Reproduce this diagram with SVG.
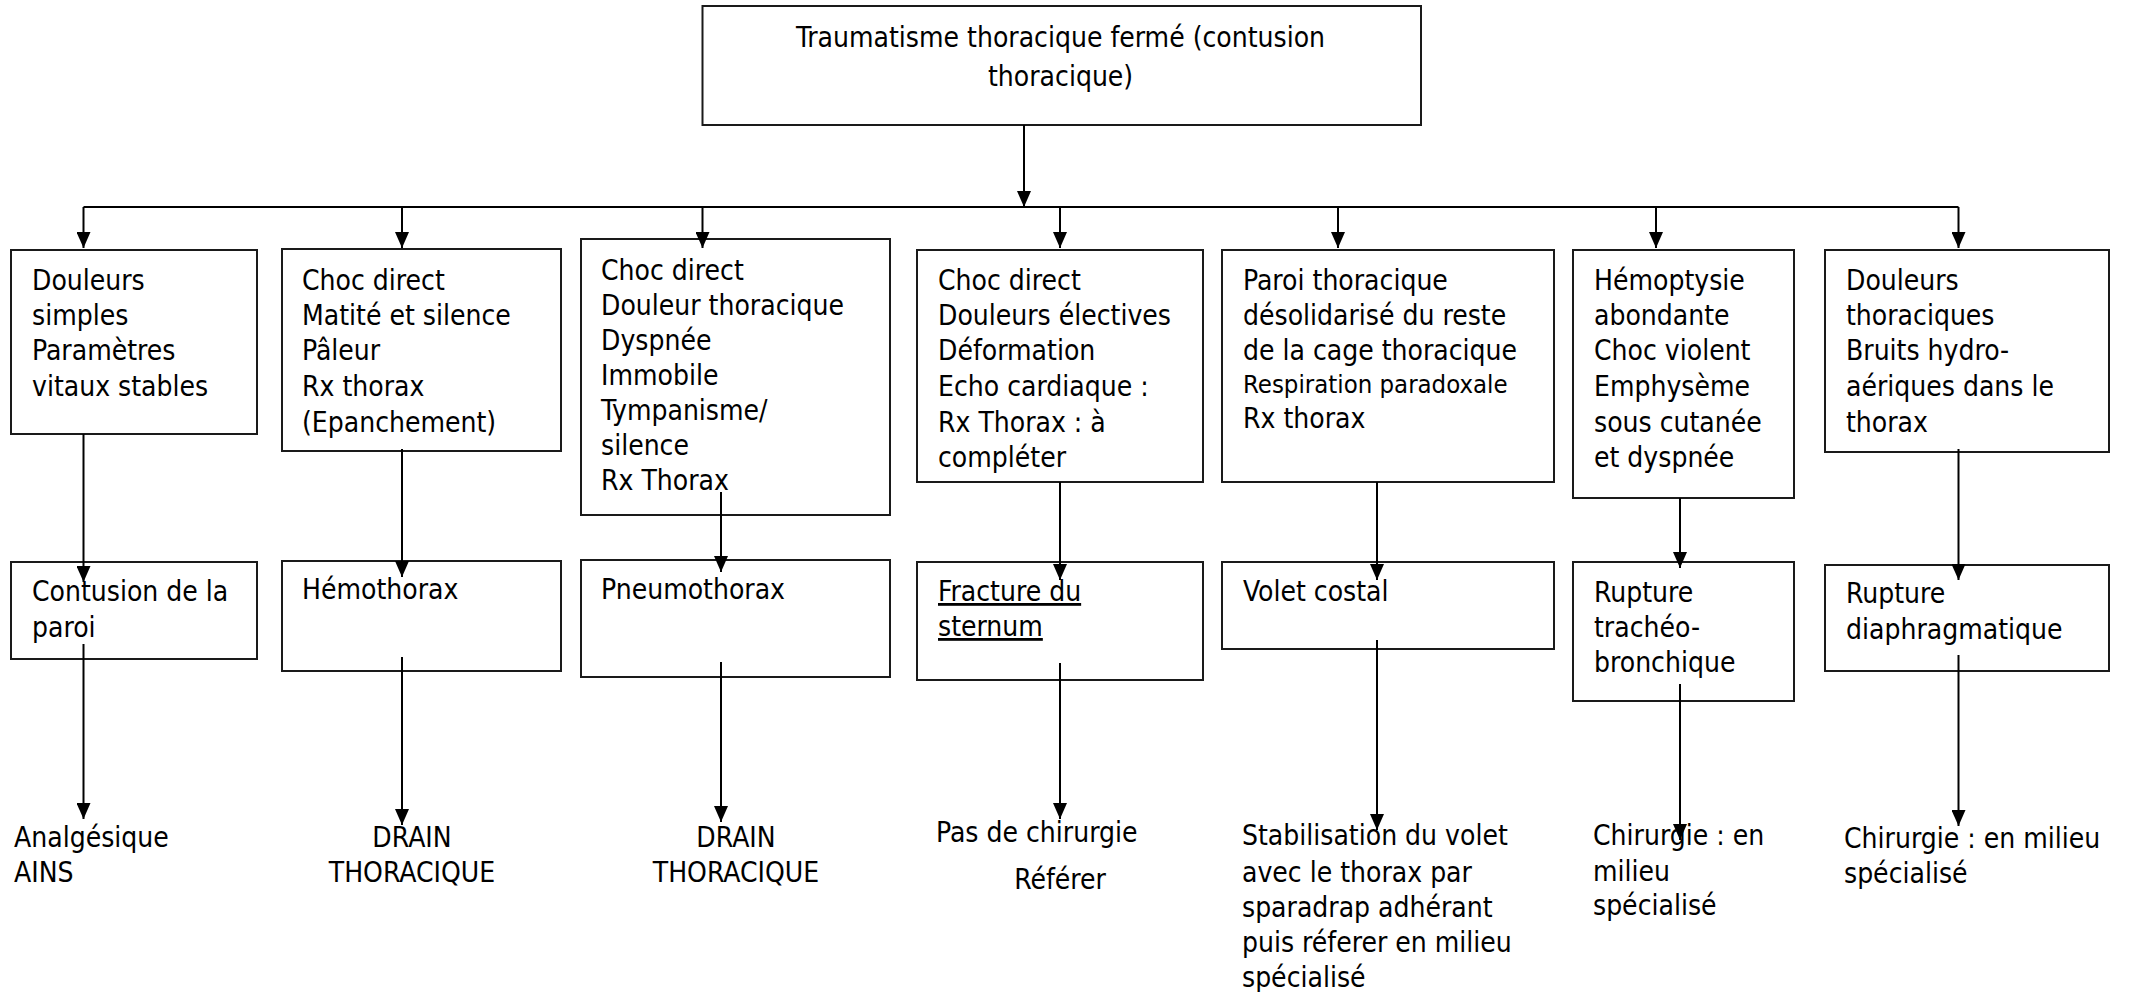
<svg xmlns="http://www.w3.org/2000/svg" width="2131" height="992" viewBox="0 0 2131 992">
  <style>
    .box { fill: #ffffff; stroke: #1a1a1a; stroke-width: 2; }
    .lbl { font-family: "DejaVu Sans Condensed", "DejaVu Sans", Verdana, sans-serif; font-stretch: condensed; font-size: 28px; fill: #000000; }
    .sm { font-size: 25.5px; }
    .mid { text-anchor: middle; }
    .ul { text-decoration: underline; }
    .wire { fill: none; stroke: #000000; stroke-width: 2; }
    .arr { marker-end: url(#head); }
  </style>
  <defs>
    <marker id="head" markerUnits="userSpaceOnUse" markerWidth="16" markerHeight="14" viewBox="0 0 16 14" refX="16" refY="7" orient="auto">
      <path d="M0,0 L16,7 L0,14 Z" fill="#000000"/>
    </marker>
  </defs>
  <rect width="2131" height="992" fill="#ffffff"/>

  <!-- nodes -->
  <g id="root">
    <rect class="box" x="702.5" y="6" width="718.5" height="119"/>
    <text class="lbl" x="796" y="47">Traumatisme thoracique fermé (contusion</text>
    <text class="lbl" x="988" y="86">thoracique)</text>
  </g>

  <g id="signes-paroi">
    <rect class="box" x="11" y="250" width="246" height="184"/>
    <text class="lbl" x="32" y="290">Douleurs</text>
    <text class="lbl" x="32" y="325">simples</text>
    <text class="lbl" x="32" y="360">Paramètres</text>
    <text class="lbl" x="32" y="396">vitaux stables</text>
  </g>
  <g id="signes-hemothorax">
    <rect class="box" x="282" y="249" width="279" height="202"/>
    <text class="lbl" x="302" y="290">Choc direct</text>
    <text class="lbl" x="302" y="325">Matité et silence</text>
    <text class="lbl" x="302" y="360">Pâleur</text>
    <text class="lbl" x="302" y="396">Rx thorax</text>
    <text class="lbl" x="302" y="432">(Epanchement)</text>
  </g>
  <g id="signes-pneumothorax">
    <rect class="box" x="581" y="239" width="309" height="276"/>
    <text class="lbl" x="601" y="280">Choc direct</text>
    <text class="lbl" x="601" y="315">Douleur thoracique</text>
    <text class="lbl" x="601" y="350">Dyspnée</text>
    <text class="lbl" x="601" y="385">Immobile</text>
    <text class="lbl" x="601" y="420">Tympanisme/</text>
    <text class="lbl" x="601" y="455">silence</text>
    <text class="lbl" x="601" y="490">Rx Thorax</text>
  </g>
  <g id="signes-sternum">
    <rect class="box" x="917" y="250" width="286" height="232"/>
    <text class="lbl" x="938" y="290">Choc direct</text>
    <text class="lbl" x="938" y="325">Douleurs électives</text>
    <text class="lbl" x="938" y="360">Déformation</text>
    <text class="lbl" x="938" y="396">Echo cardiaque :</text>
    <text class="lbl" x="938" y="432">Rx Thorax : à</text>
    <text class="lbl" x="938" y="467">compléter</text>
  </g>
  <g id="signes-volet">
    <rect class="box" x="1222" y="250" width="332" height="232"/>
    <text class="lbl" x="1243" y="290">Paroi thoracique</text>
    <text class="lbl" x="1243" y="325">désolidarisé du reste</text>
    <text class="lbl" x="1243" y="360">de la cage thoracique</text>
    <text class="lbl sm" x="1243" y="393">Respiration paradoxale</text>
    <text class="lbl" x="1243" y="428">Rx thorax</text>
  </g>
  <g id="signes-trachee">
    <rect class="box" x="1573" y="250" width="221" height="248"/>
    <text class="lbl" x="1594" y="290">Hémoptysie</text>
    <text class="lbl" x="1594" y="325">abondante</text>
    <text class="lbl" x="1594" y="360">Choc violent</text>
    <text class="lbl" x="1594" y="396">Emphysème</text>
    <text class="lbl" x="1594" y="432">sous cutanée</text>
    <text class="lbl" x="1594" y="467">et dyspnée</text>
  </g>
  <g id="signes-diaphragme">
    <rect class="box" x="1825" y="250" width="284" height="202"/>
    <text class="lbl" x="1846" y="290">Douleurs</text>
    <text class="lbl" x="1846" y="325">thoraciques</text>
    <text class="lbl" x="1846" y="360">Bruits hydro-</text>
    <text class="lbl" x="1846" y="396">aériques dans le</text>
    <text class="lbl" x="1846" y="432">thorax</text>
  </g>

  <g id="diag-paroi">
    <rect class="box" x="11" y="562" width="246" height="97"/>
    <text class="lbl" x="32" y="601">Contusion de la</text>
    <text class="lbl" x="32" y="637">paroi</text>
  </g>
  <g id="diag-hemothorax">
    <rect class="box" x="282" y="561" width="279" height="110"/>
    <text class="lbl" x="302" y="599">Hémothorax</text>
  </g>
  <g id="diag-pneumothorax">
    <rect class="box" x="581" y="560" width="309" height="117"/>
    <text class="lbl" x="601" y="599">Pneumothorax</text>
  </g>
  <g id="diag-sternum">
    <rect class="box" x="917" y="562" width="286" height="118"/>
    <text class="lbl ul" x="938" y="601">Fracture du</text>
    <text class="lbl ul" x="938" y="636">sternum</text>
  </g>
  <g id="diag-volet">
    <rect class="box" x="1222" y="562" width="332" height="87"/>
    <text class="lbl" x="1243" y="601">Volet costal</text>
  </g>
  <g id="diag-trachee">
    <rect class="box" x="1573" y="562" width="221" height="139"/>
    <text class="lbl" x="1594" y="602">Rupture</text>
    <text class="lbl" x="1594" y="637">trachéo-</text>
    <text class="lbl" x="1594" y="672">bronchique</text>
  </g>
  <g id="diag-diaphragme">
    <rect class="box" x="1825" y="565" width="284" height="106"/>
    <text class="lbl" x="1846" y="603">Rupture</text>
    <text class="lbl" x="1846" y="639">diaphragmatique</text>
  </g>

  <!-- treatments -->
  <g id="ttt-paroi">
    <text class="lbl" x="14" y="847">Analgésique</text>
    <text class="lbl" x="14" y="882">AINS</text>
  </g>
  <g id="ttt-hemothorax">
    <text class="lbl mid" x="412" y="847">DRAIN</text>
    <text class="lbl mid" x="412" y="882">THORACIQUE</text>
  </g>
  <g id="ttt-pneumothorax">
    <text class="lbl mid" x="736" y="847">DRAIN</text>
    <text class="lbl mid" x="736" y="882">THORACIQUE</text>
  </g>
  <g id="ttt-sternum">
    <text class="lbl" x="936" y="842">Pas de chirurgie</text>
    <text class="lbl mid" x="1060" y="889">Référer</text>
  </g>
  <g id="ttt-volet">
    <text class="lbl" x="1242" y="845">Stabilisation du volet</text>
    <text class="lbl" x="1242" y="882">avec le thorax par</text>
    <text class="lbl" x="1242" y="917">sparadrap adhérant</text>
    <text class="lbl" x="1242" y="952">puis réferer en milieu</text>
    <text class="lbl" x="1242" y="987">spécialisé</text>
  </g>
  <g id="ttt-trachee">
    <text class="lbl" x="1593" y="845">Chirurgie : en</text>
    <text class="lbl" x="1593" y="881">milieu</text>
    <text class="lbl" x="1593" y="915">spécialisé</text>
  </g>
  <g id="ttt-diaphragme">
    <text class="lbl" x="1844" y="848">Chirurgie : en milieu</text>
    <text class="lbl" x="1844" y="883">spécialisé</text>
  </g>

  <!-- connectors -->
  <g id="connectors">
    <line class="wire arr" x1="1024" y1="125" x2="1024" y2="207"/>
    <line class="wire" x1="83.5" y1="207" x2="1958.5" y2="207"/>
    <line class="wire arr" x1="83.5" y1="207" x2="83.5" y2="248"/>
    <line class="wire arr" x1="402" y1="207" x2="402" y2="248"/>
    <line class="wire arr" x1="702.5" y1="207" x2="702.5" y2="248"/>
    <line class="wire arr" x1="1060" y1="207" x2="1060" y2="248"/>
    <line class="wire arr" x1="1338" y1="207" x2="1338" y2="248"/>
    <line class="wire arr" x1="1656" y1="207" x2="1656" y2="248"/>
    <line class="wire arr" x1="1958.5" y1="207" x2="1958.5" y2="248"/>

    <line class="wire arr" x1="83.5" y1="434" x2="83.5" y2="582"/>
    <line class="wire arr" x1="402" y1="449" x2="402" y2="577"/>
    <line class="wire arr" x1="721" y1="492" x2="721" y2="572"/>
    <line class="wire arr" x1="1060" y1="482" x2="1060" y2="580"/>
    <line class="wire arr" x1="1377" y1="482" x2="1377" y2="580"/>
    <line class="wire arr" x1="1680" y1="498" x2="1680" y2="568"/>
    <line class="wire arr" x1="1958.5" y1="449" x2="1958.5" y2="580"/>

    <line class="wire arr" x1="83.5" y1="644" x2="83.5" y2="819"/>
    <line class="wire arr" x1="402" y1="657" x2="402" y2="825"/>
    <line class="wire arr" x1="721" y1="662" x2="721" y2="822"/>
    <line class="wire arr" x1="1060" y1="663" x2="1060" y2="819"/>
    <line class="wire arr" x1="1377" y1="640" x2="1377" y2="830"/>
    <line class="wire arr" x1="1680" y1="684" x2="1680" y2="840"/>
    <line class="wire arr" x1="1958.5" y1="655" x2="1958.5" y2="826"/>
  </g>
</svg>
